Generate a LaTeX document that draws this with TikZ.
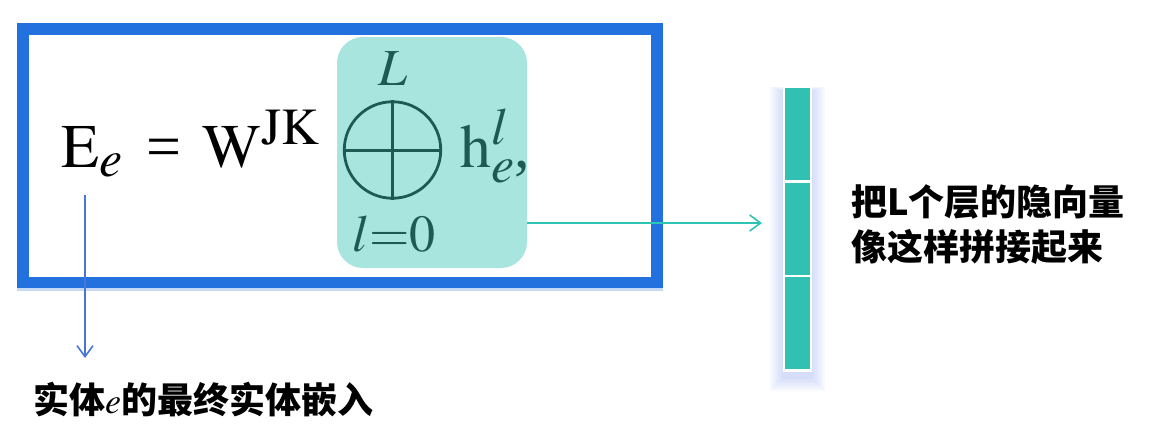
\documentclass[tikz,border=0pt]{standalone}
\usepackage{mathptmx}
\usepackage{fontspec}
\setmainfont{Liberation Serif}
\newfontfamily\cjk{Noto Sans CJK SC}
\usetikzlibrary{positioning,arrows.meta,backgrounds}
\DeclareMathSizes{62}{62}{52}{40}
\DeclareMathSizes{52}{52}{40}{30}
\definecolor{frameblue}{RGB}{34,113,222}
\definecolor{framepale}{RGB}{198,218,246}
\definecolor{sumteal}{RGB}{65,198,185}
\definecolor{barteal}{RGB}{48,193,179}
\definecolor{flowteal}{RGB}{46,196,180}
\definecolor{flowblue}{RGB}{72,118,214}
\definecolor{glowblue}{RGB}{120,146,228}
\tikzset{
  eqn/.style    = {inner sep=0, font=\fontsize{62}{70}\selectfont},
  lim/.style    = {inner sep=0, font=\fontsize{52}{60}\selectfont},
  sumbox/.style = {rounded corners=26pt, fill=sumteal, fill opacity=.46, minimum width=190pt, minimum height=231pt, inner sep=0},
  cell/.style   = {fill=barteal, draw=white, line width=2.5pt, minimum width=27pt, minimum height=94.5pt, inner sep=0, outer sep=0},
  note/.style   = {inner sep=0, align=left, font=\cjk\bfseries\fontsize{36}{45}\selectfont},
  tflow/.style  = {-{Straight Barb[length=11pt,width=16pt]}, line width=1.6pt, draw=flowteal},
  bflow/.style  = {-{Straight Barb[length=11pt,width=16pt]}, line width=1.6pt, draw=flowblue},
}
\begin{document}
\begin{tikzpicture}[x=1pt, y=-1pt, node distance=0pt]
  \useasboundingbox (0,0) rectangle (1151,429);
  \fill[framepale] (17,286) rectangle (663,291);
  \draw[frameblue, line width=11.5pt] (23,28.8) rectangle (657,282.3);

  \node[eqn, anchor=base west] (lhs) at (61,167) {$\mathrm{E}_e$\hspace{24pt}=\hspace{21pt}$\mathrm{W}^{\mathrm{JK}}$};
  \node[draw, circle, line width=2.8pt, minimum size=96.5pt, inner sep=0] (op) at (392.5,150) {};
  \draw[line width=3pt] (op.north) -- (op.south) (op.west) -- (op.east);
  \node[lim, anchor=base] (up) at (393,85) {$L$};
  \node[lim, anchor=base] (lo) at (394,251) {$l{=}0$};
  \node[eqn, anchor=base west] (hel) at (460,167) {$\mathrm{h}^{l}_{e}$,};
  \node[sumbox] (sum) at (432,152.5) {};

  \node[cell] (v1) at (797.5,134.3) {};
  \node[cell, below=of v1] (v2) {};
  \node[cell, below=of v2] (v3) {};
  \begin{scope}[on background layer]
    \foreach \g in {2,4,...,14}
      \fill[glowblue, opacity=.05] ([shift={(-\g pt,0.3*\g pt-4pt)}]v1.north west) rectangle ([shift={(\g pt,-\g pt-6pt)}]v3.south east);
  \end{scope}

  \node[note, anchor=north west] (cap) at (851,184) {把L个层的隐向量\\像这样拼接起来};
  \node[anchor=base west, inner sep=0, font=\cjk\bfseries\fontsize{36}{44}\selectfont] (lbl) at (33,413) {实体$e$的最终实体嵌入};

  \coordinate (lvl) at (0,223);
  \draw[tflow, shorten >=22pt] (sum.east |- lvl) -- (v2.west |- lvl);
  \coordinate (drop) at (85,195);
  \coordinate (drop-end) at (85,358);
  \draw[bflow] (drop) -- (drop-end);
\end{tikzpicture}
\end{document}
